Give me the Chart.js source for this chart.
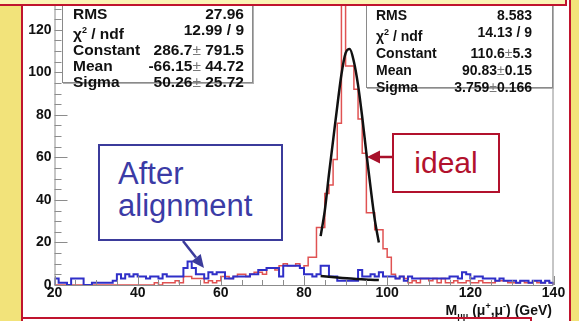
<!DOCTYPE html>
<html>
<head>
<meta charset="utf-8">
<script src="https://cdn.jsdelivr.net/npm/chart.js@4.4.1/dist/chart.umd.min.js"></script>
<style>
  html, body { margin: 0; padding: 0; }
  body { width: 579px; height: 321px; overflow: hidden; position: relative; background: #f2e37a;
         font-family: "Liberation Sans", Arial, sans-serif; }
  #frame { position: absolute; left: 21px; top: -10px; width: 550px; height: 345px; background: #fff;
           border: 2px solid #c0142e; box-sizing: border-box; }
  #plot { position: absolute; left: 0; top: 0; z-index: 1; }
  .stats { position: absolute; top: 0; background: #fff; border: 1px solid #8a8a8a; border-top: none;
           box-shadow: 1px 1px 0 #b0b0b0; box-sizing: border-box; z-index: 2; font-weight: bold; color: #111; }
  .stats .row { display: flex; justify-content: space-between; white-space: nowrap; }
  .stats .pm { color: #777; font-weight: normal; }
  #statsL { left: 62px; width: 191px; height: 83px; padding: 6px 8px 0 10px; font-size: 15.5px; line-height: 16px; }
  #statsR { left: 366px; width: 187px; height: 88px; padding: 7px 20px 0 9px; font-size: 14px; line-height: 17px; }
  .note { position: absolute; background: #fff; box-sizing: border-box; z-index: 2; }
  #afterBox { left: 98px; top: 144px; width: 185px; height: 97px; border: 2px solid #3b3b9b;
              color: #3b3ba6; font-size: 31px; line-height: 32px; padding: 12px 0 0 18px; }
  #idealBox { left: 392px; top: 133px; width: 108px; height: 60px; border: 2px solid #b2112d;
              color: #b2112d; font-size: 30px; line-height: 34px; padding-top: 11px; text-align: center; }
  #arrows { position: absolute; left: 0; top: 0; z-index: 3; }
  #xtitle { position: absolute; right: 27px; top: 302px; font-size: 14px; font-weight: bold; line-height: 16px;
            color: #111; z-index: 2; white-space: nowrap; }
  #xtitle sub, #xtitle sup { font-size: 9px; line-height: 0; }
  #band { position: absolute; left: 0; top: 0; width: 567px; height: 6px; background: #fbf4b6;
          border-bottom: 2px solid #c0142e; border-right: 2px solid #c0142e; box-sizing: border-box; z-index: 4; }
  #bottomLine { position: absolute; left: 21px; top: 317px; width: 511px; height: 8px;
                border-top: 2px solid #c0142e; border-right: 2px solid #c0142e; box-sizing: border-box; z-index: 4; }
</style>
</head>
<body>
<div id="frame"></div>
<canvas id="plot" width="579" height="321"></canvas>

<div class="stats" id="statsL">
  <div class="row"><span>RMS</span><span>27.96</span></div>
  <div class="row"><span>&chi;<sup style="font-size:9px">2</sup> / ndf</span><span>12.99 / 9</span></div>
  <div class="row"><span>Constant</span><span>286.7<span class="pm">&plusmn;</span> 791.5</span></div>
  <div class="row"><span>Mean</span><span>-66.15<span class="pm">&plusmn;</span> 44.72</span></div>
  <div class="row"><span>Sigma</span><span>50.26<span class="pm">&plusmn;</span> 25.72</span></div>
</div>
<div class="stats" id="statsR">
  <div class="row"><span>RMS</span><span>8.583</span></div>
  <div class="row"><span>&chi;<sup style="font-size:9px">2</sup> / ndf</span><span>14.13 / 9</span></div>
  <div class="row"><span>Constant</span><span>110.6<span class="pm">&plusmn;</span>5.3</span></div>
  <div class="row"><span>Mean</span><span>90.83<span class="pm">&plusmn;</span>0.15</span></div>
  <div class="row"><span>Sigma</span><span>3.759<span class="pm">&plusmn;</span>0.166</span></div>
</div>

<div class="note" id="afterBox">After<br>alignment</div>
<div class="note" id="idealBox">ideal</div>

<svg id="arrows" width="579" height="321">
  <line x1="183" y1="241" x2="196" y2="257.5" stroke="#3b3b9b" stroke-width="2.5"/>
  <polygon points="204,268 191.3,261.4 200.7,254" fill="#3b3b9b"/>
  <line x1="392" y1="157" x2="379" y2="157" stroke="#a8102a" stroke-width="2.5"/>
  <polygon points="367,157 380,150.5 380,163.5" fill="#a8102a"/>
</svg>

<div id="xtitle">M<sub>&mu;&mu;</sub> (&mu;<sup>+</sup>,&mu;<sup>-</sup>) (GeV)</div>
<div id="band"></div>
<div id="bottomLine"></div>

<script>
// histogram range, 1 GeV bins
const massRange = [20, 140];
const binWidth = 1;

// "ideal" geometry, entries per bin (20..139 GeV)
const idealCounts = [
  0, 0, 0, 0, 0, 0, 0, 0, 0, 0,
  0, 0, 0, 0, 0, 0, 0, 0, 0, 0,
  0, 0, 0, 0, 1, 0, 1, 1, 1, 2,
  1, 4, 4, 3, 3, 3, 1, 2, 1, 2,
  4, 4, 3, 4, 5, 5, 4, 5, 6, 6,
  5, 8, 8, 7, 9, 10, 9, 9, 10, 8,
  9, 13, 13, 27, 27, 43, 47, 59, 76, 150,
  103, 103, 92, 78, 62, 34, 34, 26, 26, 17,
  13, 5, 3, 4, 3, 1, 2, 1, 3, 3,
  2, 3, 1, 3, 1, 1, 2, 1, 1, 2,
  1, 1, 2, 1, 1, 1, 2, 2, 2, 1,
  1, 1, 2, 1, 1, 2, 1, 1, 2, 1
];

// after alignment, entries per bin (20..139 GeV)
const alignedCounts = [
  3, 1, 1, 0, 3, 3, 3, 0, 0, 1,
  1, 1, 1, 1, 2, 5, 3, 5, 4, 5,
  4, 4, 3, 4, 4, 3, 5, 4, 4, 4,
  4, 8, 11, 8, 5, 5, 3, 6, 5, 6,
  6, 3, 3, 4, 4, 4, 4, 5, 5, 7,
  7, 8, 8, 8, 4, 9, 9, 9, 9, 8,
  5, 5, 4, 5, 9, 9, 4, 4, 2, 2,
  2, 2, 2, 7, 4, 4, 5, 4, 6, 4,
  4, 4, 3, 4, 2, 4, 3, 3, 3, 3,
  3, 3, 3, 3, 3, 4, 4, 3, 6, 5,
  3, 4, 4, 3, 3, 3, 2, 3, 2, 2,
  2, 1, 2, 2, 1, 2, 2, 1, 2, 1
];

// gaussian fit curves
const idealFitMass = [84, 85, 86, 87, 88, 89, 90, 91, 92, 93, 94, 95, 96, 97, 98];
const idealFitValue = [23, 35, 52, 68, 84, 99, 109, 111, 105, 94, 79, 62, 46, 31, 20];
const alignedFitMass = [84, 88, 92, 96, 98];
const alignedFitValue = [4.2, 3.5, 2.9, 2.5, 2.3];

const xTicks = [20, 40, 60, 80, 100, 120, 140];
const yTicks = [0, 20, 40, 60, 80, 100, 120];
const yMax = 134;

// bin contents -> step outline (ROOT style)
function histoPoints(counts) {
  const pts = [{ x: massRange[0], y: 0 }];
  counts.forEach((c, i) => pts.push({ x: massRange[0] + i * binWidth, y: c }));
  pts.push({ x: massRange[1], y: counts[counts.length - 1] });
  pts.push({ x: massRange[1], y: 0 });
  return pts;
}

const frameTicks = {
  id: 'frameTicks',
  afterDraw(chart) {
    const { ctx, chartArea: a, scales: { x, y } } = chart;
    ctx.save();
    ctx.strokeStyle = '#8c8c8c';
    ctx.lineWidth = 1;
    ctx.beginPath();
    ctx.moveTo(a.left + 0.5, a.top);
    ctx.lineTo(a.left + 0.5, a.bottom + 0.5);
    ctx.lineTo(a.right - 0.5, a.bottom + 0.5);
    ctx.lineTo(a.right - 0.5, a.top);
    for (let v = 0; v <= yMax; v += 5) {
      const py = Math.round(y.getPixelForValue(v)) + 0.5;
      const len = v % 20 === 0 ? 13 : 7;
      ctx.moveTo(a.left, py);
      ctx.lineTo(a.left + len, py);
    }
    for (let v = massRange[0]; v <= massRange[1]; v += 5) {
      const px = Math.round(x.getPixelForValue(v)) + 0.5;
      const len = v % 20 === 0 ? 9 : 5;
      ctx.moveTo(px, a.bottom);
      ctx.lineTo(px, a.bottom - len);
    }
    ctx.stroke();
    ctx.restore();
  }
};

const tickFont = { family: 'Liberation Sans', size: 14, weight: 'bold' };

new Chart(document.getElementById('plot'), {
  type: 'line',
  data: {
    datasets: [
      {
        data: idealFitMass.map((m, i) => ({ x: m, y: idealFitValue[i] })),
        borderColor: '#111', borderWidth: 2.5, cubicInterpolationMode: 'monotone', order: 0
      },
      {
        data: alignedFitMass.map((m, i) => ({ x: m, y: alignedFitValue[i] })),
        borderColor: '#111', borderWidth: 2.5, cubicInterpolationMode: 'monotone', order: 0
      },
      {
        data: histoPoints(alignedCounts),
        borderColor: '#2f2fc8', borderWidth: 2, stepped: 'before', order: 1
      },
      {
        data: histoPoints(idealCounts),
        borderColor: '#e05252', borderWidth: 1.5, stepped: 'before', order: 2
      }
    ]
  },
  options: {
    responsive: false,
    animation: false,
    layout: { padding: { top: 0, right: 25.5, bottom: 0, left: 0 } },
    elements: { point: { radius: 0 } },
    plugins: { legend: { display: false }, tooltip: { enabled: false } },
    scales: {
      x: {
        type: 'linear', min: massRange[0], max: massRange[1],
        afterBuildTicks: s => { s.ticks = xTicks.map(v => ({ value: v })); },
        afterFit: s => { s.height = 36; s.paddingLeft = 0; s.paddingRight = 0; },
        grid: { display: false, drawTicks: false },
        border: { display: false },
        ticks: { color: '#111', font: tickFont, padding: 0, maxRotation: 0, autoSkip: false }
      },
      y: {
        type: 'linear', min: 0, max: yMax,
        afterBuildTicks: s => { s.ticks = yTicks.map(v => ({ value: v })); },
        afterFit: s => { s.width = 54.5; s.paddingTop = 0; s.paddingBottom = 0; },
        grid: { display: false, drawTicks: false },
        border: { display: false },
        ticks: { color: '#111', font: tickFont, padding: 3, autoSkip: false }
      }
    }
  },
  plugins: [frameTicks]
});
</script>
</body>
</html>
